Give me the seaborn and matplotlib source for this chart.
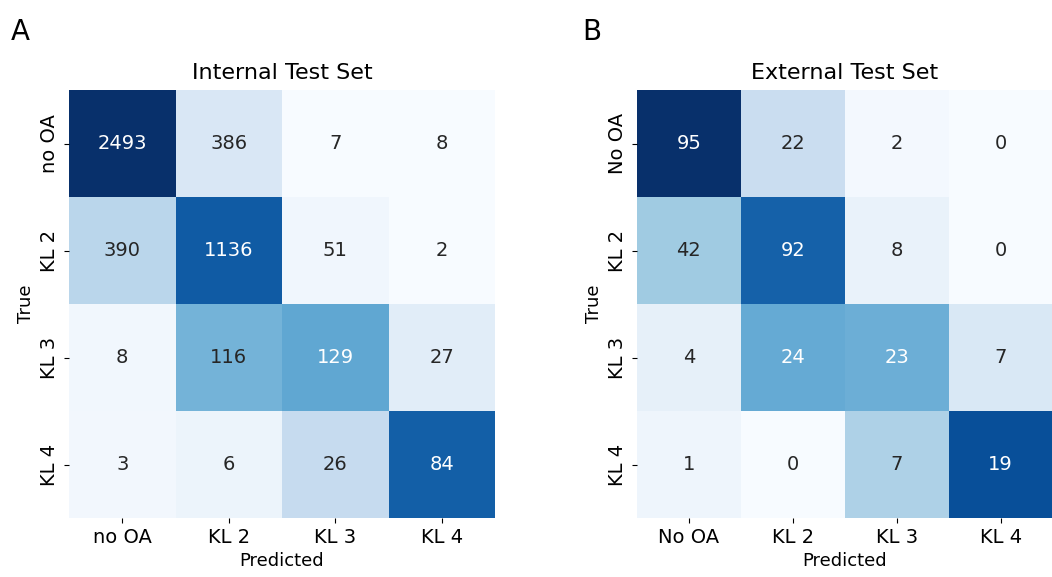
import numpy as np
import matplotlib
matplotlib.use("Agg")
import matplotlib.pyplot as plt
import seaborn as sns

# === Data ===
internal_labels = ["no OA", "KL 2", "KL 3", "KL 4"]
external_labels = ["No OA", "KL 2", "KL 3", "KL 4"]

internal_counts = np.array([
    [2493, 386, 7, 8],
    [390, 1136, 51, 2],
    [8, 116, 129, 27],
    [3, 6, 26, 84],
])
external_counts = np.array([
    [95, 22, 2, 0],
    [42, 92, 8, 0],
    [4, 24, 23, 7],
    [1, 0, 7, 19],
])

plt.rcParams["font.family"] = ["DejaVu Sans"]

# === Plot ===
fig = plt.figure(figsize=(10.52, 5.77), dpi=100)
ax1 = fig.add_axes([0.0656, 0.102, 0.405, 0.742])
ax2 = fig.add_axes([0.6055, 0.102, 0.395, 0.742])

panels = [
    (ax1, internal_counts, internal_labels, "Internal Test Set", "A", 0.010),
    (ax2, external_counts, external_labels, "External Test Set", "B", 0.553),
]

for ax, counts, labels, title, letter, lx in panels:
    norm = counts / counts.sum(axis=1, keepdims=True)  # colour by row share
    sns.heatmap(norm, annot=counts, fmt="d", cmap="Blues", cbar=False,
                xticklabels=labels, yticklabels=labels, ax=ax,
                annot_kws={"fontsize": 14})
    ax.set_title(title, fontsize=16, pad=8)
    ax.set_xlabel("Predicted", fontsize=13)
    ax.set_ylabel("True", fontsize=13)
    ax.tick_params(labelsize=14)
    plt.setp(ax.get_yticklabels(), rotation=90, va="center")
    fig.text(lx, 0.93, letter, fontsize=20)

# === Save ===
fig.savefig("out.png", dpi=100)
plt.close(fig)
